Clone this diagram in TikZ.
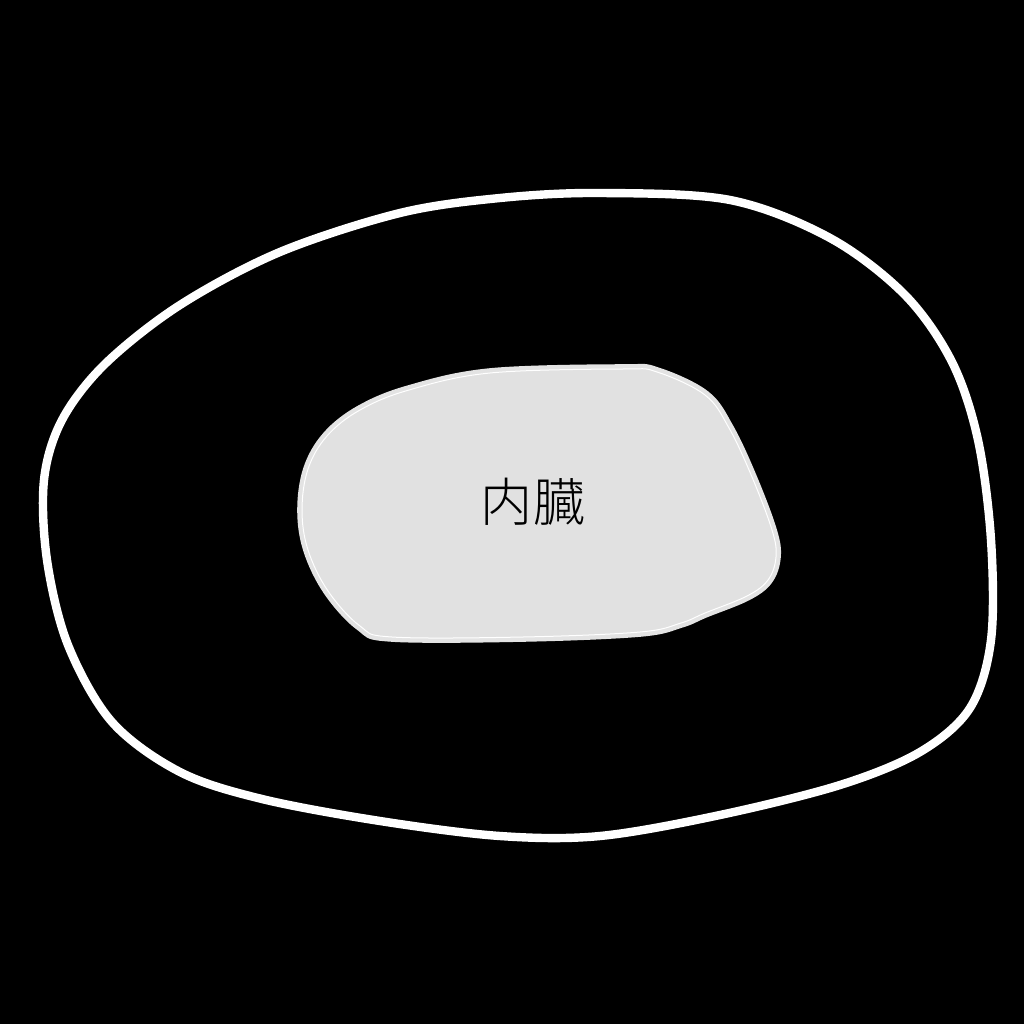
\documentclass[tikz,border=0pt]{standalone}
\usepackage{fontspec}
\newfontfamily\cjk{Noto Sans CJK JP}[UprightFont={* Light}]
\definecolor{orgfill}{HTML}{E1E1E1}
\definecolor{orgband}{HTML}{E3E3E3}
\begin{document}
\begin{tikzpicture}[
  x=0.25mm, y=-0.25mm,
  body/.style={draw=white, line width=2.1mm, line join=round},
  organ/.style={fill=orgfill},
  organedge/.style={draw=orgband, line width=2.4mm, line join=round},
  organline/.style={draw=white, line width=0.25mm},
  label/.style={font=\cjk\fontsize{37}{44}\selectfont, text=black},
]

% Background
\fill[black] (0,0) rectangle (1024,1024);
\useasboundingbox (0,0) rectangle (1024,1024);

% Body outline
\draw[body] plot[smooth cycle, tension=0.55] coordinates {
  (600,193) (730,200) (830,238) (905,295) (952,362) (978,440)
  (991,540) (991,640) (970,708) (920,752) (840,785) (720,815)
  (600,836) (500,836) (380,821) (262,799) (180,772) (112,722)
  (68,645) (47,560) (44,480) (62,420) (105,364) (180,305)
  (280,252) (400,213) (500,198)};

% Organ
\def\organpath{plot[smooth cycle, tension=0.6] coordinates {
  (490,373) (623,369) (657,372) (705,395) (729,428) (752,477)
  (772,530) (776,557) (768,580) (747,596) (705,613) (681,623)
  (640,632) (523,637) (392,637) (360,626) (328,591) (308,550)
  (302,510) (308,469) (327,436) (360,410) (409,390)}}
\draw[organedge] \organpath;
\fill[organ] \organpath;
\draw[organline] \organpath;

\node[label] (naizo) at (533,502) {内臓};

\end{tikzpicture}
\end{document}
